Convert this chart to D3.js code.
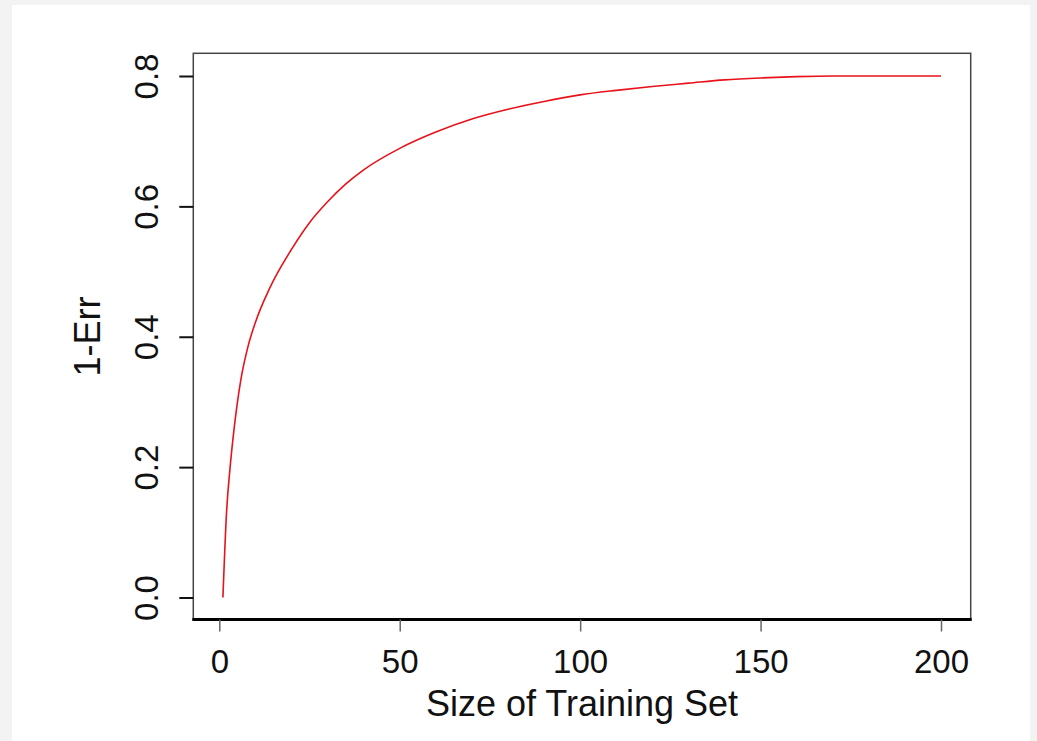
<!DOCTYPE html>
<html>
<head>
<meta charset="utf-8">
<script src="https://d3js.org/d3.v7.min.js"></script>
<style>
    body { margin: 0; background: #f3f3f3; }
    svg { display: block; }
    .axis text { font-family: "Liberation Sans", Arial, sans-serif; font-size: 33px; fill: #111; }
    .axisTitle { font-family: "Liberation Sans", Arial, sans-serif; font-size: 36px; fill: #111; }
</style>
</head>
<body>
<script>
//size of training set and matching 1-Err values
var trainSizes = [1, 2, 3, 4, 6, 8, 10, 14, 20, 25, 30, 35, 40, 50, 60, 70, 80, 90, 100, 110, 120, 130, 140, 150, 160, 170, 185, 200];
var oneMinusErr = [0, 0.13, 0.20, 0.254, 0.335, 0.386, 0.422, 0.475, 0.534, 0.575, 0.607, 0.634, 0.656, 0.689, 0.714, 0.734, 0.749, 0.761, 0.771, 0.778, 0.784, 0.789, 0.794, 0.797, 0.799, 0.800, 0.800, 0.800];
var xTicks = [0, 50, 100, 150, 200];
var yTicks = [0, 0.2, 0.4, 0.6, 0.8];

(function(){

    window.onload = setChart();

    function setChart(){
        //frame dimensions
        var width = 1037,
            height = 741,
            boxLeft = 193.3,
            boxRight = 970.7,
            boxTop = 53.3,
            boxBottom = 619.5;

        var svg = d3.select("body")
            .append("svg")
            .attr("width", width)
            .attr("height", height);

        //white page panel over grey background
        svg.append("rect")
            .attr("x", 12)
            .attr("y", 5)
            .attr("width", 1018)
            .attr("height", height - 5)
            .style("fill", "#fff");

        var xScale = d3.scaleLinear()
            .domain([0, 200])
            .range([219.3, 941]);

        var yScale = d3.scaleLinear()
            .domain([0, 0.8])
            .range([597.5, 76]);

        //the curve
        var line = d3.line()
            .x(function(d, i){ return xScale(trainSizes[i]); })
            .y(function(d){ return yScale(d); })
            .curve(d3.curveMonotoneX);

        svg.append("path")
            .datum(oneMinusErr)
            .attr("d", line)
            .style("fill", "none")
            .style("stroke", "#e8121a")
            .style("stroke-width", 1.6);

        //plot box
        svg.append("rect")
            .attr("x", boxLeft)
            .attr("y", boxTop)
            .attr("width", boxRight - boxLeft)
            .attr("height", boxBottom - boxTop)
            .style("fill", "none")
            .style("stroke", "#444")
            .style("stroke-width", 1.5);

        //heavy bottom edge
        svg.append("line")
            .attr("x1", boxLeft - 1)
            .attr("x2", boxRight + 1)
            .attr("y1", boxBottom)
            .attr("y2", boxBottom)
            .style("stroke", "#000")
            .style("stroke-width", 3);

        //x axis
        var xAxis = d3.axisBottom(xScale)
            .tickValues(xTicks)
            .tickSize(12)
            .tickFormat(d3.format("d"));

        var xg = svg.append("g")
            .attr("class", "axis")
            .attr("transform", "translate(0," + boxBottom + ")")
            .call(xAxis);
        xg.select(".domain").remove();
        xg.selectAll("line").style("stroke", "#666").style("stroke-width", 1.5);
        xg.selectAll("text")
            .attr("y", 53.5)
            .attr("dy", 0);

        //y axis with labels turned sideways
        var yAxis = d3.axisLeft(yScale)
            .tickValues(yTicks)
            .tickSize(14)
            .tickFormat(d3.format(".1f"));

        var yg = svg.append("g")
            .attr("class", "axis")
            .attr("transform", "translate(" + boxLeft + ",0)")
            .call(yAxis);
        yg.select(".domain").remove();
        yg.selectAll("line").style("stroke", "#111").style("stroke-width", 2);
        yg.selectAll("text")
            .attr("x", 0)
            .attr("y", 0)
            .attr("dy", 0)
            .attr("text-anchor", "middle")
            .attr("transform", "translate(-35,0) rotate(-90)");

        //axis titles
        svg.append("text")
            .attr("class", "axisTitle")
            .attr("x", (boxLeft + boxRight) / 2)
            .attr("y", 716)
            .attr("text-anchor", "middle")
            .text("Size of Training Set");

        svg.append("text")
            .attr("class", "axisTitle")
            .attr("text-anchor", "middle")
            .attr("transform", "translate(100," + (boxTop + boxBottom) / 2 + ") rotate(-90)")
            .text("1-Err");
    };

})();
</script>
</body>
</html>
